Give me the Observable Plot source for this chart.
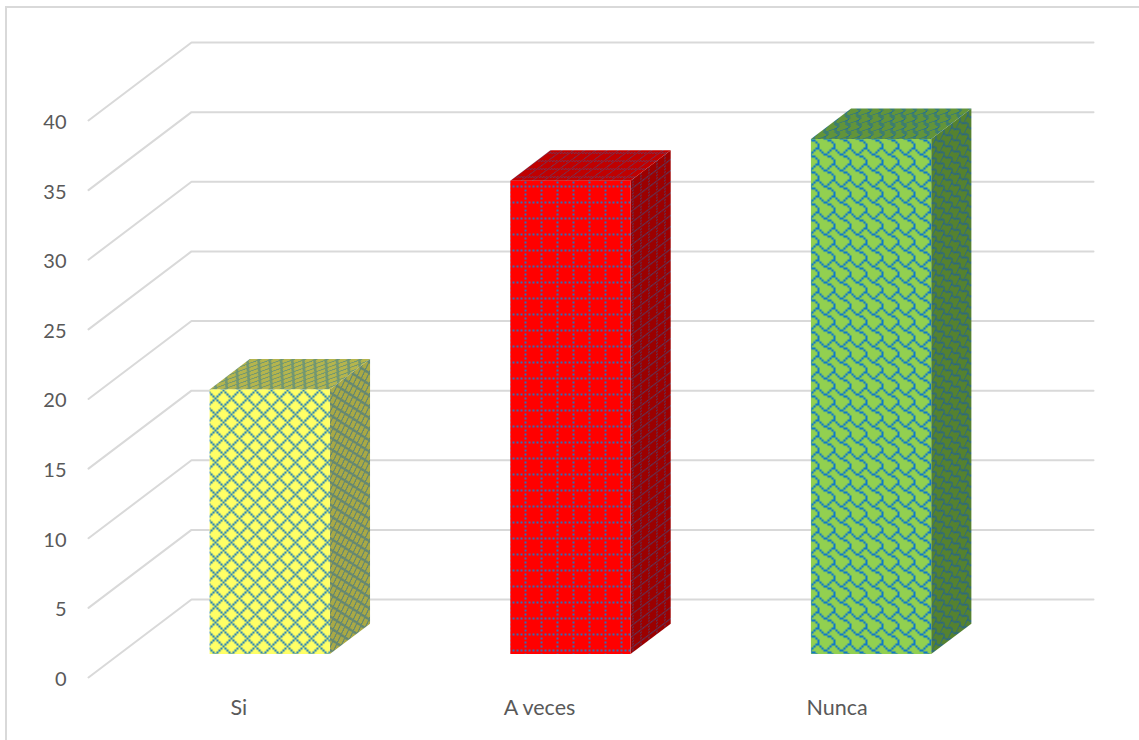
<!DOCTYPE html>
<html><head><meta charset="utf-8">
<script src="https://cdn.jsdelivr.net/npm/d3@7"></script>
<script src="https://cdn.jsdelivr.net/npm/@observablehq/plot@0.6"></script>
<style>
html,body{margin:0;padding:0;background:#fff;overflow:hidden}
#wrap{position:relative;width:1139px;height:740px}
#wrap svg{position:absolute;left:0;top:0;background:transparent}
#edge{position:absolute;left:5px;top:6px;right:0;bottom:0;border-top:2px solid #d9d9d9;border-left:2px solid #d9d9d9}
</style></head><body>
<div id="wrap"><div id="edge"></div></div>
<script>
const categories = ["Si", "A veces", "Nunca"];
const values = [19, 34, 37];
const ticks = [0, 5, 10, 15, 20, 25, 30, 35, 40];
const patternIds = ["si", "av", "nu"];
const labelPositions = [0.5, 1.5, 2.49];

// Oblique projection of the 3D column chart: depth 0 = front plane, 1 = back wall
const depthX = 0.3426, depthY = 5.6;
const project = (c, v, d) => ({x: c + d * depthX, y: v + d * depthY});
const barFront = 0.3, barBack = 0.69, barLeft = 0.3, barRight = 0.7;

const grid = ticks.flatMap((t) => [
  {t, ...project(0, t, 0)}, {t, ...project(0, t, 1)}, {t, ...project(3, t, 1)}
]);

function faces(i) {
  const a = i + barLeft, b = i + barRight, v = values[i];
  return {
    front: [project(a, 0, barFront), project(b, 0, barFront), project(b, v, barFront), project(a, v, barFront)],
    side: [project(b, 0, barFront), project(b, 0, barBack), project(b, v, barBack), project(b, v, barFront)],
    top: [project(a, v, barFront), project(b, v, barFront), project(b, v, barBack), project(a, v, barBack)]
  };
}

// 8x8 hatch bitmaps (outlined diamond, dotted grid, shingle), drawn 2px per bit
const diamondBits = [0x41, 0x22, 0x14, 0x08, 0x14, 0x22, 0x41, 0x80];
const dottedBits = [0xAA, 0x00, 0x80, 0x00, 0x80, 0x00, 0x80, 0x00];
const shingleBits = [0x03, 0x84, 0x48, 0x30, 0x0C, 0x02, 0x01, 0x01];
function bitsPath(bits) {
  let d = "";
  bits.forEach((row, y) => {
    for (let x = 0; x < 8; x++) if (row & (0x80 >> x)) d += `M${x * 2} ${y * 2}h2v2h-2z`;
  });
  return d;
}
function pattern(id, bits, bg, fg, transform, weight) {
  return `<pattern id="${id}" width="16" height="16" patternUnits="userSpaceOnUse" patternTransform="${transform}">
    <rect width="16" height="16" fill="${bg}"/><path d="${bitsPath(bits)}" fill="${fg}" stroke="${fg}" stroke-width="${weight}"/></pattern>`;
}
const sideT = "matrix(0.5,-0.375,0,0.7,0,0)";
const topT = "matrix(0.7,0,-0.67,0.5,0,0)";
const defs = () => d3.create("svg:defs").html(
  pattern("si-front", diamondBits, "#ffff66", "#2f86b4", "translate(14,7)", 0.25) +
  pattern("si-side", diamondBits, "#a9a945", "#24689c", sideT, 0) +
  pattern("si-top", diamondBits, "#b5b54d", "#2f7a96", topT, 0) +
  pattern("av-front", dottedBits, "#ff0000", "#2f6fb8", "translate(12,9)", 0) +
  pattern("av-side", dottedBits, "#9c0000", "#2a5f9e", sideT, 0) +
  pattern("av-top", dottedBits, "#c00000", "#2f5f9e", topT, 0) +
  pattern("nu-front", shingleBits, "#92d050", "#0f78c8", "translate(3,3)", 0.25) +
  pattern("nu-side", shingleBits, "#55822f", "#1c5f9e", sideT, 0) +
  pattern("nu-top", shingleBits, "#62943a", "#1a6aa0", topT, 0)
).node();

const barMarks = categories.flatMap((c, i) => {
  const f = faces(i), id = patternIds[i];
  return ["side", "top", "front"].map((k) =>
    Plot.line(f[k], {x: "x", y: "y", fill: `url(#${id}-${k})`, stroke: "none", curve: "linear"}));
});

const chart = Plot.plot({
  width: 1139, height: 740,
  marginLeft: 0, marginRight: 0, marginTop: 0, marginBottom: 0,
  x: {domain: [0, 3], range: [88, 990], axis: null},
  y: {domain: [0, 40], range: [677, 120], axis: null},
  style: {fontFamily: "Lato, sans-serif", background: "transparent"},
  marks: [
    defs,
    Plot.line(grid, {x: "x", y: "y", z: "t", stroke: "#d9d9d9", strokeWidth: 2, curve: "linear"}),
    ...barMarks,
    Plot.text(ticks, {x: () => 0, y: (d) => d, text: (d) => String(d), textAnchor: "end", dx: -22, dy: 2, fontSize: 20, fill: "#595959"}),
    Plot.text(categories, {x: (d, i) => labelPositions[i], y: () => 0, text: (d) => d, dy: 31, fontSize: 21.5, fill: "#595959"})
  ]
});
document.getElementById("wrap").appendChild(chart);
</script>
</body></html>
